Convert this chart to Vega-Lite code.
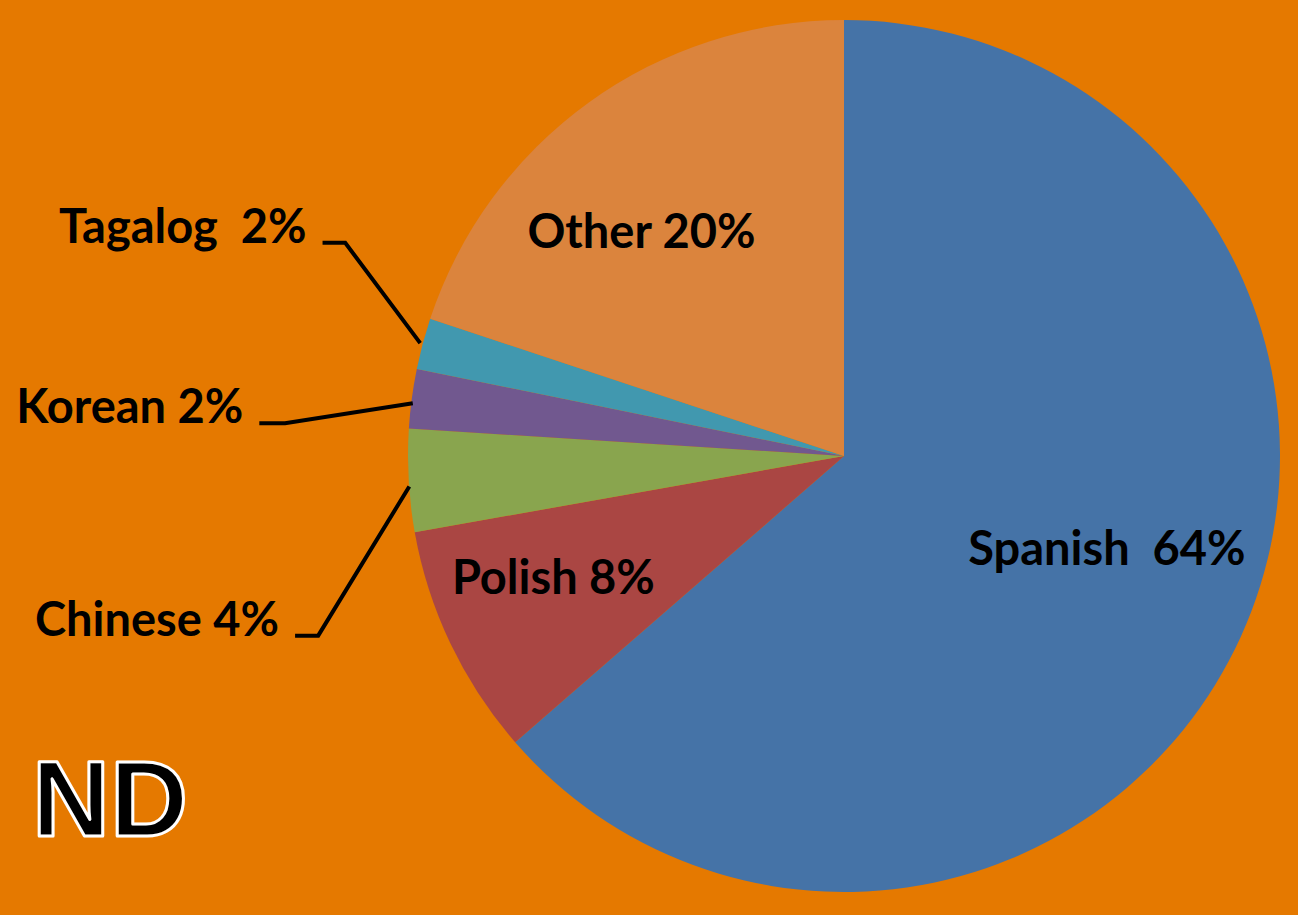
{
  "$schema": "https://vega.github.io/schema/vega-lite/v6.json",
  "width": 872,
  "height": 872,
  "autosize": {"type": "none"},
  "padding": {"left": 408, "top": 20, "right": 18, "bottom": 23},
  "background": "#E57900",
  "datasets": {
    "pie": [
      {"lang": "Spanish", "share": 63.6, "label": "Spanish\u00a0 64%", "idx": 1},
      {"lang": "Polish", "share": 8.6, "label": "Polish 8%", "idx": 2},
      {"lang": "Chinese", "share": 3.8, "label": "Chinese 4%", "idx": 3},
      {"lang": "Korean", "share": 2.2, "label": "Korean 2%", "idx": 4},
      {"lang": "Tagalog", "share": 1.9, "label": "Tagalog\u00a0 2%", "idx": 5},
      {"lang": "Other", "share": 19.9, "label": "Other 20%", "idx": 6}
    ],
    "leaders": [
      {"lang": "Tagalog", "step": 1, "x": -0.972, "y": 0.259},
      {"lang": "Tagalog", "step": 2, "x": -1.144, "y": 0.489},
      {"lang": "Tagalog", "step": 3, "x": -1.196, "y": 0.489},
      {"lang": "Korean", "step": 1, "x": -0.989, "y": 0.121},
      {"lang": "Korean", "step": 2, "x": -1.282, "y": 0.075},
      {"lang": "Korean", "step": 3, "x": -1.341, "y": 0.075},
      {"lang": "Chinese", "step": 1, "x": -0.997, "y": -0.07},
      {"lang": "Chinese", "step": 2, "x": -1.206, "y": -0.412},
      {"lang": "Chinese", "step": 3, "x": -1.259, "y": -0.412}
    ]
  },
  "data": {"name": "pie"},
  "title": {
    "text": "ND",
    "orient": "bottom",
    "anchor": "start",
    "frame": "group",
    "offset": 0,
    "dx": -376,
    "dy": -56,
    "baseline": "alphabetic",
    "font": "Liberation Sans",
    "fontSize": 108,
    "fontWeight": "bold",
    "color": "#000000",
    "style": "ndstyle"
  },
  "layer": [
    {
      "mark": {"type": "arc"},
      "encoding": {
        "theta": {"field": "share", "type": "quantitative", "stack": true},
        "order": {"field": "idx", "type": "quantitative"},
        "color": {
          "field": "lang",
          "type": "nominal",
          "scale": {
            "domain": ["Spanish", "Polish", "Chinese", "Korean", "Tagalog", "Other"],
            "range": ["#4573A7", "#AA4643", "#89A54E", "#71588F", "#4198AF", "#DB843D"]
          },
          "legend": null
        }
      }
    },
    {
      "mark": {"type": "text", "radius": 280, "dx": 8, "dy": -21, "font": "Lato", "fontWeight": "bold", "fontSize": 47, "color": "#000000", "align": "center", "baseline": "middle"},
      "encoding": {
        "theta": {"field": "share", "type": "quantitative", "stack": true},
        "order": {"field": "idx", "type": "quantitative"},
        "text": {"condition": {"test": "datum.lang === 'Spanish'", "field": "label"}, "value": ""}
      }
    },
    {
      "mark": {"type": "text", "radius": 300, "dx": -20, "dy": -5, "font": "Lato", "fontWeight": "bold", "fontSize": 47, "color": "#000000", "align": "center", "baseline": "middle"},
      "encoding": {
        "theta": {"field": "share", "type": "quantitative", "stack": true},
        "order": {"field": "idx", "type": "quantitative"},
        "text": {"condition": {"test": "datum.lang === 'Polish'", "field": "label"}, "value": ""}
      }
    },
    {
      "mark": {"type": "text", "radius": 300, "dx": -27, "dy": 21, "font": "Lato", "fontWeight": "bold", "fontSize": 47, "color": "#000000", "align": "center", "baseline": "middle"},
      "encoding": {
        "theta": {"field": "share", "type": "quantitative", "stack": true},
        "order": {"field": "idx", "type": "quantitative"},
        "text": {"condition": {"test": "datum.lang === 'Other'", "field": "label"}, "value": ""}
      }
    },
    {
      "data": {"name": "leaders"},
      "mark": {"type": "line", "color": "#000000", "strokeWidth": 4},
      "encoding": {
        "x": {"field": "x", "type": "quantitative", "scale": {"domain": [-1, 1], "nice": false, "zero": false}, "axis": null},
        "y": {"field": "y", "type": "quantitative", "scale": {"domain": [-1, 1], "nice": false, "zero": false}, "axis": null},
        "detail": {"field": "lang", "type": "nominal"},
        "order": {"field": "step", "type": "quantitative"}
      }
    },
    {
      "data": {"name": "leaders"},
      "transform": [
        {"filter": "datum.step === 3"},
        {"lookup": "lang", "from": {"data": {"name": "pie"}, "key": "lang", "fields": ["label"]}}
      ],
      "mark": {"type": "text", "dx": -16, "font": "Lato", "fontWeight": "bold", "fontSize": 47, "color": "#000000", "align": "right", "baseline": "alphabetic"},
      "encoding": {
        "x": {"field": "x", "type": "quantitative", "scale": {"domain": [-1, 1], "nice": false, "zero": false}, "axis": null},
        "y": {"field": "y", "type": "quantitative", "scale": {"domain": [-1, 1], "nice": false, "zero": false}, "axis": null},
        "text": {"field": "label", "type": "nominal"}
      }
    }
  ],
  "config": {
    "view": {"stroke": null},
    "style": {
      "ndstyle": {"stroke": "#FFFFFF", "strokeWidth": 3, "strokeJoin": "round"}
    }
  }
}
